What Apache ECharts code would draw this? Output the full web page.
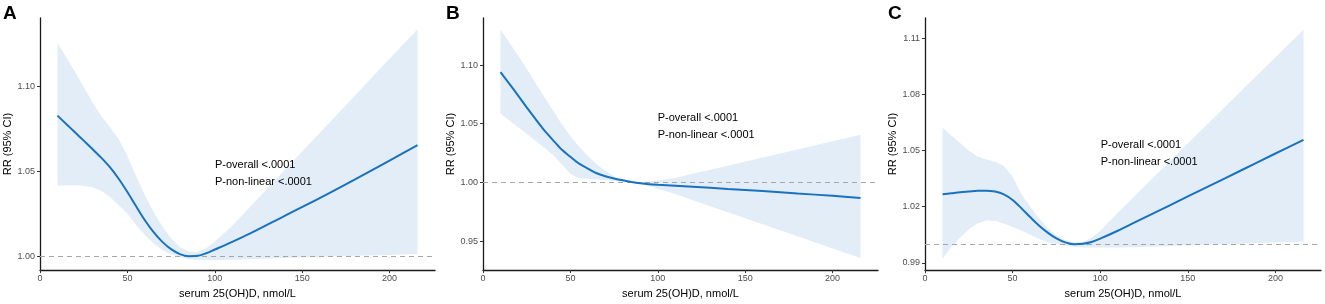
<!DOCTYPE html>
<html>
<head>
<meta charset="utf-8">
<script src="https://cdn.jsdelivr.net/npm/echarts@6/dist/echarts.min.js"></script>
<style>
  html, body { margin: 0; background: #fff; }
  #main { width: 1325px; height: 304px; }
</style>
</head>
<body>
<div id="main"></div>
<script>
// serum 25(OH)D values where the curves were read
const xs = [10, 15, 20, 25, 30, 35, 40, 45, 50, 55, 60, 65, 70, 75, 80, 85, 90, 95, 100, 110, 120, 140, 160, 180, 200, 216];

// panel A
const estA = [1.0827, 1.0778, 1.0729, 1.0680, 1.0631, 1.0580, 1.0524, 1.0456, 1.0378, 1.0294, 1.0212, 1.0142, 1.0085, 1.0042, 1.0013, 1.0001, 1.0003, 1.0018, 1.0040, 1.0085, 1.0133, 1.0238, 1.0342, 1.0451, 1.0563, 1.0653];
const lowA = [1.0415, 1.0418, 1.0418, 1.0415, 1.0406, 1.0385, 1.0349, 1.0302, 1.0250, 1.0186, 1.0125, 1.0075, 1.0038, 1.0010, 0.9994, 0.9983, 0.9979, 0.9978, 0.9978, 0.9980, 0.9983, 0.9990, 0.9997, 1.0003, 1.0008, 1.0013];
const upA = [1.1255, 1.1170, 1.1085, 1.0995, 1.0905, 1.0825, 1.0760, 1.0690, 1.0590, 1.0470, 1.0360, 1.0260, 1.0175, 1.0105, 1.0055, 1.0028, 1.0025, 1.0048, 1.0085, 1.0180, 1.0289, 1.0507, 1.0725, 1.0943, 1.1161, 1.1335];

// panel B
const estB = [1.0939, 1.0842, 1.0742, 1.0640, 1.0541, 1.0445, 1.0361, 1.0280, 1.0218, 1.0160, 1.0118, 1.0078, 1.0053, 1.0034, 1.0018, 1.0004, 0.9993, 0.9985, 0.9980, 0.9972, 0.9963, 0.9945, 0.9927, 0.9906, 0.9886, 0.9868];
const lowB = [1.0588, 1.0528, 1.0472, 1.0414, 1.0355, 1.0296, 1.0235, 1.0155, 1.0075, 1.0035, 1.0030, 1.0026, 1.0020, 1.0013, 1.0006, 0.9998, 0.9991, 0.9969, 0.9947, 0.9901, 0.9849, 0.9746, 0.9644, 0.9541, 0.9438, 0.9357];
const upB = [1.1302, 1.1192, 1.1084, 1.0968, 1.0850, 1.0731, 1.0614, 1.0497, 1.0396, 1.0303, 1.0225, 1.0154, 1.0100, 1.0052, 1.0022, 1.0006, 1.0003, 1.0010, 1.0018, 1.0038, 1.0073, 1.0142, 1.0212, 1.0281, 1.0351, 1.0406];

// panel C
const estC = [1.0267, 1.0272, 1.0277, 1.0281, 1.0285, 1.0286, 1.0281, 1.0266, 1.0236, 1.0192, 1.0145, 1.0100, 1.0062, 1.0031, 1.0010, 1.0000, 1.0002, 1.0012, 1.0030, 1.0072, 1.0118, 1.0209, 1.0301, 1.0392, 1.0484, 1.0557];
const lowC = [0.9922, 0.9985, 1.0035, 1.0080, 1.0110, 1.0127, 1.0125, 1.0110, 1.0092, 1.0073, 1.0050, 1.0028, 1.0012, 1.0001, 0.9992, 0.9986, 0.9983, 0.9982, 0.9982, 0.9982, 0.9984, 0.9990, 0.9997, 1.0003, 1.0009, 1.0014];
const upC = [1.0622, 1.0580, 1.0540, 1.0500, 1.0468, 1.0452, 1.0440, 1.0418, 1.0360, 1.0268, 1.0200, 1.0140, 1.0085, 1.0048, 1.0022, 1.0010, 1.0010, 1.0035, 1.0070, 1.0168, 1.0260, 1.0445, 1.0629, 1.0814, 1.0998, 1.1144];

// tick labels
const xTicks = [0, 50, 100, 150, 200];
const yTicksA = [1.00, 1.05, 1.10];
const yTicksB = [0.95, 1.00, 1.05, 1.10];
const yTicksC = [0.99, 1.02, 1.05, 1.08, 1.11];

const panelLetters = ['A', 'B', 'C'];
const noteText = 'P-overall <.0001\nP-non-linear <.0001';

const FONT = 'Liberation Sans, Arial, sans-serif';
const LINE_COLOR = '#1872bd';
const BAND_COLOR = '#e2edf8';

const panels = [
  { est: estA, low: lowA, up: upA, yTicks: yTicksA, min: 0.9919, max: 1.1401, left: 40, width: 395, bottom: 30.7, note: [215, 156.5] },
  { est: estB, low: lowB, up: upB, yTicks: yTicksB, min: 0.9253, max: 1.1401, left: 483, width: 395, bottom: 30, note: [657.7, 109] },
  { est: estC, low: lowC, up: upC, yTicks: yTicksC, min: 0.9862, max: 1.1207, left: 925, width: 396, bottom: 30, note: [1100.7, 136.5] }
];

function bandRender(low, up) {
  return function (params, api) {
    if (params.dataIndex !== 0) return;
    const pts = [];
    for (let k = 0; k < xs.length; k++) pts.push(api.coord([xs[k], up[k]]));
    for (let k = xs.length - 1; k >= 0; k--) pts.push(api.coord([xs[k], low[k]]));
    return { type: 'polygon', shape: { points: pts }, style: { fill: BAND_COLOR } };
  };
}

const grid = [], xAxis = [], yAxis = [], series = [], title = [], graphic = [];

panels.forEach((p, i) => {
  grid.push({ left: p.left, width: p.width, top: 18, bottom: p.bottom });
  xAxis.push({
    gridIndex: i,
    type: 'value',
    min: 0,
    max: 226,
    name: 'serum 25(OH)D, nmol/L',
    nameLocation: 'middle',
    nameGap: 16,
    nameTextStyle: { color: '#000', fontSize: 11, fontFamily: FONT },
    axisLine: { show: true, onZero: false, lineStyle: { color: '#1a1a1a', width: 1.3 } },
    axisTick: { show: true, length: 3, customValues: xTicks, lineStyle: { color: '#333' } },
    axisLabel: { customValues: xTicks, color: '#4d4d4d', fontSize: 9, fontFamily: FONT, margin: 4 },
    splitLine: { show: false }
  });
  yAxis.push({
    gridIndex: i,
    type: 'value',
    min: p.min,
    max: p.max,
    name: 'RR (95% CI)',
    nameLocation: 'middle',
    nameGap: 25,
    nameTextStyle: { color: '#000', fontSize: 11, fontFamily: FONT },
    axisLine: { show: true, onZero: false, lineStyle: { color: '#1a1a1a', width: 1.3 } },
    axisTick: { show: true, length: 3, customValues: p.yTicks, lineStyle: { color: '#333' } },
    axisLabel: {
      customValues: p.yTicks,
      formatter: (v) => v.toFixed(2),
      color: '#4d4d4d', fontSize: 9, fontFamily: FONT, margin: 5
    },
    splitLine: { show: false }
  });
  series.push({
    type: 'custom',
    xAxisIndex: i,
    yAxisIndex: i,
    silent: true,
    renderItem: bandRender(p.low, p.up),
    encode: { x: 0, y: [1, 2] },
    data: xs.map((x, k) => [x, p.low[k], p.up[k]]),
    z: 1
  });
  series.push({
    type: 'line',
    xAxisIndex: i,
    yAxisIndex: i,
    data: xs.map((x, k) => [x, p.est[k]]),
    showSymbol: false,
    smooth: 0.3,
    lineStyle: { color: LINE_COLOR, width: 2 },
    z: 3,
    markLine: {
      silent: true,
      symbol: 'none',
      label: { show: false },
      lineStyle: { color: '#a6a6a6', type: [5, 4], width: 1 },
      data: [{ yAxis: 1 }],
      z: 2
    }
  });
  title.push({
    text: panelLetters[i],
    left: p.left - 37,
    top: 4,
    padding: 0,
    textStyle: { fontSize: 19, fontWeight: 'bold', color: '#000', fontFamily: FONT }
  });
  graphic.push({
    type: 'text',
    x: p.note[0],
    y: p.note[1],
    style: { text: noteText, font: '11px ' + FONT, fill: '#000', lineHeight: 17 },
    z: 10
  });
});

const option = {
  animation: false,
  backgroundColor: '#fff',
  title: title,
  grid: grid,
  xAxis: xAxis,
  yAxis: yAxis,
  series: series,
  graphic: graphic
};

const myChart = echarts.init(document.getElementById('main'));
myChart.setOption(option);
</script>
</body>
</html>
